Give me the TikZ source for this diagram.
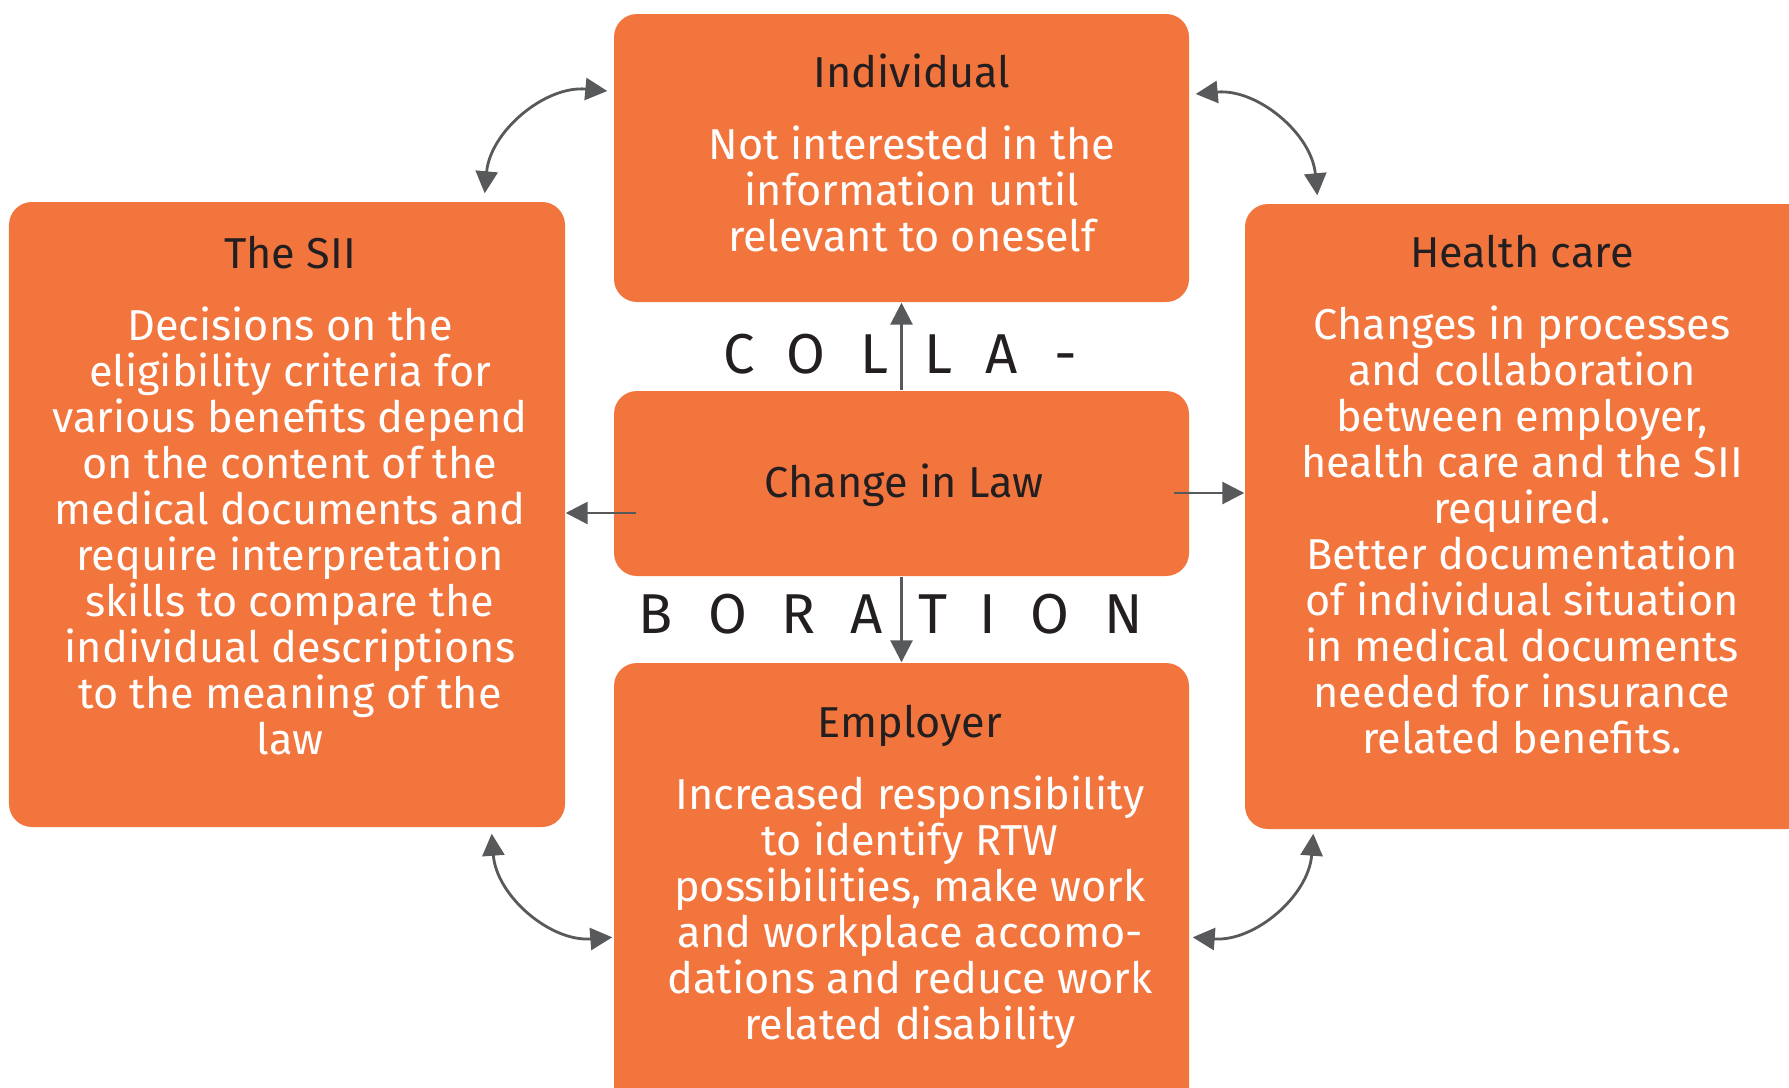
\documentclass[tikz,border=0pt]{standalone}
\usepackage{fontspec}
\setmainfont{Fira Sans}
\usetikzlibrary{arrows.meta}
\definecolor{cardorange}{HTML}{F2753E}
\definecolor{arrowgrey}{HTML}{58595B}
\definecolor{headink}{HTML}{231F20}
\tikzset{
  card/.style={fill=cardorange, rounded corners=2.3mm, inner sep=0pt},
  cardtext/.style={align=center, text=white, font=\fontsize{12.3}{13.1}\selectfont, inner sep=0pt, anchor=north},
  head/.style={text=headink, font=\fontsize{12.3}{13.1}\selectfont, inner sep=0pt},
  spaced/.style={text=headink, font=\fontsize{16}{16}\selectfont, inner sep=0pt, anchor=base},
  flow/.style={-{Triangle[length=2.2mm,width=2.2mm]}, draw=arrowgrey, line width=0.8pt},
  both/.style={{Triangle[length=2.2mm,width=2.2mm]}-{Triangle[length=2.2mm,width=2.2mm]}, draw=arrowgrey, line width=0.8pt},
}

\begin{document}
\begin{tikzpicture}
    \useasboundingbox (0,0) rectangle (17.89,10.87);
    \clip (0,0) rectangle (17.89,10.87);
    % the five boxes
    \node[card, minimum width=5.75cm, minimum height=2.88cm] (indiv) at (9.015,9.29) {};
    \node[card, minimum width=5.56cm, minimum height=6.25cm] (sii) at (2.87,5.725) {};
    \node[card, minimum width=5.65cm, minimum height=6.25cm] (health) at (15.275,5.705) {};
    \node[card, minimum width=5.75cm, minimum height=1.85cm] (law) at (9.015,6.035) {};
    \node[card, minimum width=5.75cm, minimum height=4.47cm] (emp) at (9.015,2.005) {};
    % their texts
    \node[cardtext] (indiv-txt) at (9.12,10.34) {{\color{headink}Individual}\\[7.5pt]
      Not interested in the\\ information until\\ relevant to oneself};
    \node[cardtext] (sii-txt) at (2.90,8.52) {{\color{headink}The SII}\\[7.5pt]
      Decisions on the\\ eligibility criteria for\\ various benefits depend\\
      on the content of the\\ medical documents and\\ require interpretation\\
      skills to compare the\\ individual descriptions\\ to the meaning of the\\ law};
    \node[cardtext] (health-txt) at (15.22,8.53) {{\color{headink}Health care}\\[7.5pt]
      Changes in processes\\ and collaboration\\ between employer,\\
      health care and the SII\\ required.\\ Better documentation\\
      of individual situation\\ in medical documents\\ needed for insurance\\ related benefits.};
    \node[cardtext] (emp-txt) at (9.10,3.83) {{\color{headink}Employer}\\[7.5pt]
      Increased responsibility\\ to identify RTW\\ possibilities, make work\\
      and workplace accomo-\\ dations and reduce work\\ related disability};
    \node[head] (law-txt) at (9.04,6.02) {Change in Law};
    % spread-out word between the middle boxes
    \foreach \ch/\x [count=\i] in {C/7.39, O/8.06, L/8.74, L/9.38, A/10.02, -/10.66}
      \node[spaced] (colla\i) at (\x,7.135) {\ch};
    \foreach \ch/\x [count=\i] in {B/6.56, O/7.28, R/7.99, A/8.67, T/9.33, I/9.88, O/10.50, N/11.24}
      \node[spaced] (borat\i) at (\x,4.535) {\ch};
    % arrows out of the middle box
    \coordinate (lawl) at ([yshift=-2.95mm]law.west);
    \coordinate (lawr) at ([yshift=-0.95mm]law.east);
    \draw[flow] (law.north) -- (indiv.south);
    \draw[flow] (law.south) -- (emp.north);
    \draw[flow] ([xshift=2.3mm]lawl) -- (lawl -| sii.east);
    \draw[flow] ([xshift=-1.6mm]lawr) -- (lawr -| health.west);
    % curved links round the corners
    \draw[both] ([xshift=-8.1mm,yshift=0.8mm]sii.north east) to[bend left=45] ([xshift=-0.6mm,yshift=6.7mm]indiv.west);
    \draw[both] ([xshift=0.6mm,yshift=6.4mm]indiv.east) to[bend left=45] ([xshift=7.3mm,yshift=0.8mm]health.north west);
    \draw[both] ([xshift=-7.4mm,yshift=-0.6mm]sii.south east) to[bend right=45] ([xshift=-0.1mm,yshift=-2.75cm]emp.north west);
    \draw[both] ([xshift=0.3mm,yshift=-2.75cm]emp.north east) to[bend right=45] ([xshift=6.9mm,yshift=-0.4mm]health.south west);
  \end{tikzpicture}
\end{document}
